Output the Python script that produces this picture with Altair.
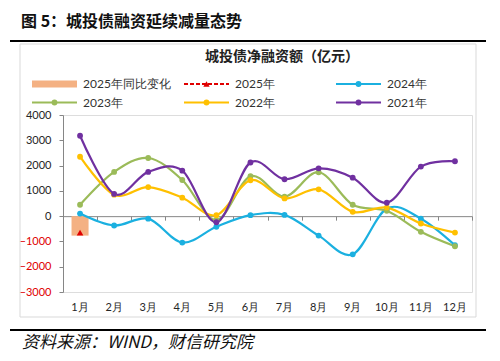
import altair as alt
import pandas as pd

months = ["1月", "2月", "3月", "4月", "5月", "6月", "7月", "8月", "9月", "10月", "11月", "12月"]
v2021 = [3180, 880, 1750, 1800, -240, 2120, 1460, 1890, 1520, 530, 1960, 2170]
v2022 = [2350, 850, 1150, 730, 40, 1420, 700, 1060, 170, 340, -290, -650]
v2023 = [450, 1750, 2300, 1430, -150, 1580, 770, 1735, 450, 210, -620, -1190]
v2024 = [100, -370, -100, -1045, -420, 40, 50, -770, -1510, 300, -100, -1150]
v2025_months = ["1月"]
v2025 = [-650]
yoy2025 = [-770]

series_order = ["2025年同比变化", "2025年", "2024年", "2023年", "2022年", "2021年"]
series_colors = ["#F4B183", "#E00000", "#1BB0E0", "#9BBB59", "#FFC000", "#7030A0"]
y_ticks = [-3000, -2000, -1000, 0, 1000, 2000, 3000, 4000]

fig_title = "图 5：城投债融资延续减量态势"
chart_title = "城投债净融资额（亿元）"
source_text = "资料来源：WIND，财信研究院"

W, H = 409, 177
CJK = "Noto Sans CJK SC"
NUM = "Lato"

rows = []
for name, vals in [("2024年", v2024), ("2023年", v2023), ("2022年", v2022), ("2021年", v2021)]:
    for i, (m, v) in enumerate(zip(months, vals)):
        rows.append({"month": m, "value": v, "series": name, "order": i})
lines_df = pd.DataFrame(rows)
bar_df = pd.DataFrame({"month": v2025_months, "value": yoy2025, "series": ["2025年同比变化"]})
tri_df = pd.DataFrame({"month": v2025_months, "value": v2025, "series": ["2025年"]})
one = pd.DataFrame({"k": [0]})
legend_df = pd.DataFrame({"series": series_order, "idx": list(range(len(series_order)))})

color_scale = alt.Scale(domain=series_order, range=series_colors)
color_enc = alt.Color("series:N", scale=color_scale, legend=None)

x_main = alt.X("month:N", sort=months, title=None,
               scale=alt.Scale(domain=months, paddingInner=0, paddingOuter=0),
               axis=alt.Axis(orient="bottom", domain=False, ticks=False, labelAngle=0,
                             labelPadding=9, labelFont=NUM, labelFontSize=11, labelColor="#262626",
                             grid=False))
x_zero = alt.X("month:N", sort=months, title=None,
               axis=alt.Axis(orient="bottom", offset=-H * 3 / 7, labels=False, ticks=True,
                             tickBand="extent", tickSize=4, tickColor="#868686",
                             domainColor="#868686", grid=False))
x_none = alt.X("month:N", sort=months, axis=None)
y_enc = alt.Y("value:Q", title=None,
              scale=alt.Scale(domain=[-3000, 4000], nice=False),
              axis=alt.Axis(values=y_ticks, grid=False, tickSize=4, labelPadding=8, format="d",
                            labelOverlap=False, labelFlush=False,
                            domainColor="#868686", tickColor="#868686",
                            labelFont=NUM, labelFontSize=11,
                            labelColor=alt.condition("datum.value < 0", alt.value("#E00000"), alt.value("#262626"))))

bars = alt.Chart(bar_df).mark_bar(width=alt.RelativeBandSize(0.5)).encode(
    x=x_main, y=y_enc, color=color_enc)

zero_axis = alt.Chart(bar_df).mark_bar(opacity=0).encode(x=x_zero, y=y_enc)

lines = alt.Chart(lines_df).mark_line(interpolate="cardinal", strokeWidth=2.2).encode(
    x=x_none, y=y_enc, color=color_enc,
    detail="series:N", order="order:Q")
pts = alt.Chart(lines_df).mark_circle(size=34, opacity=1).encode(
    x=x_none, y=y_enc, color=color_enc)
tri = alt.Chart(tri_df).mark_point(shape="triangle-up", filled=True, size=45, opacity=1).encode(
    x=x_none, y=y_enc, color=color_enc)

# legend built from the series list, laid out in a 3-column grid (pixel layout computed in-expression)
leg_base = alt.Chart(legend_df).transform_calculate(
    lx="-31 + (datum.idx % 3) * 152",
    ly="-31 + floor(datum.idx / 3) * 18.5",
    lx2="datum.lx + 45",
    lm="datum.lx + 22.5",
    lt="datum.lx + 51",
)
LX = lambda f: alt.X(f"{f}:Q", scale=None, axis=None)
LY = alt.Y("ly:Q", scale=None, axis=None)
leg_line = leg_base.transform_filter("datum.idx > 0").mark_rule(strokeWidth=2).encode(
    x=LX("lx"), x2="lx2:Q", y=LY, color=color_enc,
    strokeDash=alt.condition("datum.series === '2025年'", alt.value([4, 2]), alt.value([1, 0])))
leg_bar = leg_base.transform_filter("datum.idx === 0").mark_rule(strokeWidth=7).encode(
    x=LX("lx"), x2="lx2:Q", y=LY, color=color_enc)
leg_dot = leg_base.transform_filter("datum.idx > 1").mark_circle(size=34, opacity=1).encode(
    x=LX("lm"), y=LY, color=color_enc)
leg_tri = leg_base.transform_filter("datum.idx === 1").mark_point(
    shape="triangle-up", filled=True, size=40, opacity=1).encode(
    x=LX("lm"), y=LY, color=color_enc)
leg_txt = leg_base.mark_text(align="left", baseline="middle", font=NUM, fontSize=12,
                             color="#333333").encode(
    x=LX("lt"), y=LY, text="series:N")

box = alt.Chart(one).mark_rect(fill="transparent", stroke="#D9D9D9", strokeWidth=1).encode(
    x=alt.value(-43), x2=alt.value(413), y=alt.value(-71), y2=alt.value(202))
rule_top = alt.Chart(one).mark_rule(color="#000000", strokeWidth=2).encode(
    x=alt.value(-53), x2=alt.value(423), y=alt.value(-74))
rule_bot = alt.Chart(one).mark_rule(color="#000000", strokeWidth=2).encode(
    x=alt.value(-53), x2=alt.value(423), y=alt.value(215))
t_fig = alt.Chart(one).mark_text(align="left", baseline="middle", font=CJK, fontSize=16,
                                 fontWeight="bold", color="#111111", text=fig_title).encode(
    x=alt.value(-42), y=alt.value(-93))
t_chart = alt.Chart(one).mark_text(align="center", baseline="middle", font=CJK, fontSize=14,
                                   fontWeight="bold", color="#222222", text=chart_title).encode(
    x=alt.value(219), y=alt.value(-58))
t_src = alt.Chart(one).mark_text(align="left", baseline="middle", font=CJK, fontSize=17,
                                 fontStyle="italic", color="#111111", text=source_text).encode(
    x=alt.value(-41), y=alt.value(228))

chart = alt.layer(
    bars, zero_axis, lines, pts, tri,
    leg_bar, leg_line, leg_dot, leg_tri, leg_txt,
    box, rule_top, rule_bot, t_fig, t_chart, t_src,
).resolve_axis(
    x="independent"
).properties(
    width=W, height=H,
    autosize=alt.AutoSizeParams(type="none"),
    padding={"left": 55, "top": 107, "right": 20, "bottom": 60},
).configure_view(stroke=None).configure(background="white")

chart.save("out.html", embed_options={"renderer": "svg", "actions": False})
